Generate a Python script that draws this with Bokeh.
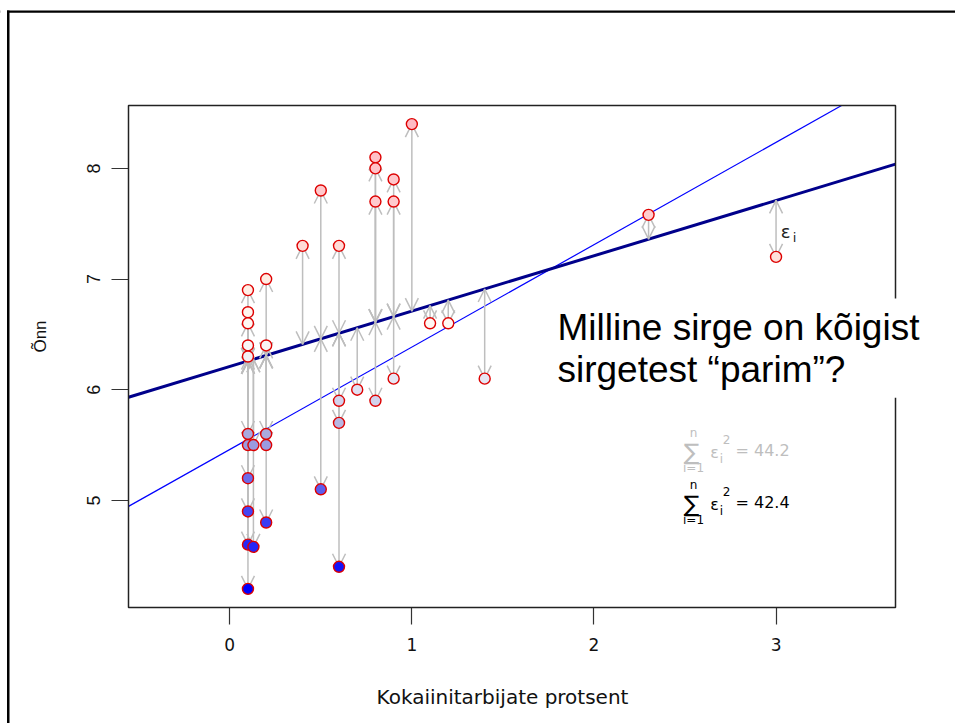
import math
import numpy as np
from bokeh.plotting import figure
from bokeh.models import (ColumnDataSource, Range1d, Arrow, OpenHead, Label, Span,
                          BoxAnnotation, LinearColorMapper, FixedTicker)
from bokeh.transform import transform
from bokeh.embed import file_html
from bokeh.resources import INLINE

# ---------------- data ----------------
cocaine_pct = [0.1, 0.1, 0.1, 0.1, 0.1, 0.1, 0.1, 0.1, 0.1, 0.1, 0.1, 0.13, 0.13,
               0.2, 0.2, 0.2, 0.2, 0.2, 0.4, 0.5, 0.5, 0.6, 0.6, 0.6, 0.6, 0.7,
               0.8, 0.8, 0.8, 0.8, 0.9, 0.9, 0.9, 1.0, 1.1, 1.2, 1.4, 2.3, 3.0]
happiness = [6.9, 6.7, 6.6, 6.4, 6.3, 5.6, 5.5, 5.2, 4.9, 4.6, 4.2, 5.5, 4.58,
             7.0, 6.4, 5.6, 5.5, 4.8, 7.3, 7.8, 5.1, 7.3, 5.9, 5.7, 4.4, 6.0,
             8.1, 8.0, 7.7, 5.9, 7.9, 7.7, 6.1, 8.4, 6.6, 6.6, 6.1, 7.58, 7.2]

best_intercept = 6.21      # thick dark-blue line
best_slope = 0.50
other_intercept = 5.46     # thin blue line
other_slope = 0.925

sse_other = "44.2"
sse_best = "42.4"

x_ticks = [0, 1, 2, 3]
y_ticks = [5, 6, 7, 8]
x_limits = [-0.4, 3.5]

x_title = "Kokaiinitarbijate protsent"
y_title = "Õnn"
question = "Milline sirge on kõigist\nsirgetest “parim”?"

# ---------------- derived ----------------
xs = np.array(cocaine_pct)
ys = np.array(happiness)
fitted = best_intercept + best_slope * xs

xpad = 0.04 * (x_limits[1] - x_limits[0])
ypad = 0.04 * (ys.max() - ys.min())
xlo, xhi = x_limits[0] - xpad, x_limits[1] + xpad       # plot box limits (R style)
ylo, yhi = ys.min() - ypad, ys.max() + ypad

W, H = 955, 723
BL, BR, BT, BB = 128, 895, 105, 607   # plot box edges in canvas px

# the Bokeh frame covers the whole canvas; ranges chosen so the box lands at BL..BR / BT..BB
sx = (xhi - xlo) / (BR - BL)
sy = (yhi - ylo) / (BB - BT)
x_range = Range1d(xlo - BL * sx, xhi + (W - BR) * sx)
y_range = Range1d(ylo - (H - BB) * sy, yhi + BT * sy)


def dx(px):
    return xlo + (px - BL) * sx


def dy(py):
    return yhi - (py - BT) * sy


SANS = "Liberation Sans"
WIDE = "DejaVu Sans"

p = figure(width=W, height=H, x_range=x_range, y_range=y_range,
           output_backend="svg", toolbar_location=None,
           min_border=0, min_border_left=0, min_border_right=0,
           min_border_top=0, min_border_bottom=0)
p.grid.visible = False
p.background_fill_color = "white"
p.border_fill_color = "white"
p.outline_line_color = None

# outer slide frame: only its left and top edges fall inside the picture
p.add_layout(Span(location=dy(11.2), dimension="width", line_color="black", line_width=2.3))
p.add_layout(BoxAnnotation(left=0, right=6.5, top=8, bottom=14,
                           left_units="canvas", right_units="canvas",
                           top_units="canvas", bottom_units="canvas",
                           fill_color="white", fill_alpha=1.0, line_alpha=0))
p.add_layout(BoxAnnotation(left=6.5, right=9, top=10, bottom=H,
                           left_units="canvas", right_units="canvas",
                           top_units="canvas", bottom_units="canvas",
                           fill_color="black", fill_alpha=1.0, line_alpha=0))

# plot box
p.add_layout(BoxAnnotation(left=xlo, right=xhi, bottom=ylo, top=yhi,
                           fill_alpha=0, line_color="#222222", line_alpha=1.0,
                           line_width=1.5))

# axes placed on the box edges
p.xaxis.fixed_location = ylo
p.yaxis.fixed_location = xlo
for ax in (p.xaxis[0], p.yaxis[0]):
    ax.axis_line_color = None
    ax.major_tick_line_color = "#333333"
    ax.major_tick_line_width = 1.2
    ax.major_tick_out = 17
    ax.major_tick_in = 0
    ax.minor_tick_line_color = None
    ax.major_label_text_color = "#111111"
p.xaxis.major_label_text_font = WIDE
p.xaxis.major_label_text_font_size = "17px"
p.yaxis.major_label_text_font = SANS
p.yaxis.major_label_text_font_size = "18px"
p.xaxis.ticker = FixedTicker(ticks=x_ticks)
p.yaxis.ticker = FixedTicker(ticks=y_ticks)
p.xaxis.major_label_standoff = 13
p.yaxis.major_label_standoff = 11
p.yaxis.major_label_orientation = "vertical"

# axis titles
p.add_layout(Label(x=502, y=696, x_units="canvas", y_units="canvas", text=x_title,
                   text_font=WIDE, text_font_size="20px", text_color="#111111",
                   text_align="center", text_baseline="middle"))
p.add_layout(Label(x=40, y=336, x_units="canvas", y_units="canvas", text=y_title,
                   text_font=SANS, text_font_size="17px", text_color="#111111",
                   text_align="center", text_baseline="middle", angle=math.pi / 2))

# lines, limited to the plot box
top_hit = (yhi - other_intercept) / other_slope
lx_other = np.array([xlo, min(xhi, top_hit)])
lx_best = np.array([xlo, xhi])
p.line(lx_other, other_intercept + other_slope * lx_other, line_color="#0000FF", line_width=1.2)
p.line(lx_best, best_intercept + best_slope * lx_best, line_color="#00008B", line_width=3)

# residual arrows
src_arrows = ColumnDataSource(dict(x0=xs, y0=fitted, x1=xs, y1=ys))
gray = "#BEBEBE"
p.add_layout(Arrow(source=src_arrows, x_start="x0", y_start="y0", x_end="x1", y_end="y1",
                   line_color=gray, line_width=1.5,
                   start=OpenHead(size=13, line_color=gray, line_width=1.5),
                   end=OpenHead(size=13, line_color=gray, line_width=1.5)))

# points coloured by value
anchors_v = [4.2, 5.0, 5.6, 6.0, 6.5, 7.0, 7.5, 8.4]
anchors_c = [(0, 0, 255), (80, 80, 240), (170, 170, 222), (225, 225, 242),
             (255, 252, 248), (255, 236, 226), (255, 208, 208), (255, 186, 196)]
grid_v = np.linspace(ys.min(), ys.max(), 256)
chan = [np.interp(grid_v, anchors_v, [c[i] for c in anchors_c]) for i in range(3)]
palette = ["#%02x%02x%02x" % (int(r), int(g), int(b)) for r, g, b in zip(*chan)]
mapper = LinearColorMapper(palette=palette, low=ys.min(), high=ys.max())

src_pts = ColumnDataSource(dict(x=xs, y=ys))
p.scatter("x", "y", source=src_pts, size=11, fill_color=transform("y", mapper),
          line_color="#DD0000", line_width=1.4, level="overlay")


def put(txt, px, py, size, color, font=WIDE, align="center"):
    p.add_layout(Label(x=dx(px), y=dy(py), text=txt, text_font=font,
                       text_font_size=size, text_color=color,
                       text_baseline="middle", text_align=align))


# epsilon label near x=3
put("ε", 785, 231, "18px", "#222222")
put("i", 794, 237, "13px", "#222222")


def sum_formula(dyp, color, value):
    put("∑", 691, 451 + dyp, "23px", color)
    put("n", 693, 432 + dyp, "12px", color)
    put("i=1", 693, 467 + dyp, "12px", color)
    put("ε", 714, 452 + dyp, "16px", color)
    put("2", 726, 439 + dyp, "12px", color)
    put("i", 721, 458 + dyp, "12px", color)
    put("= " + value, 735, 450 + dyp, "16px", color, align="left")


sum_formula(0, "#BEBEBE", sse_other)
sum_formula(52, "#000000", sse_best)

# question box
p.add_layout(Label(x=549, y=298, x_units="canvas", y_units="canvas",
                   text=question, text_font=SANS,
                   text_font_size="37px", text_color="black", text_align="left",
                   text_baseline="top", text_line_height=1.03,
                   background_fill_color="white", background_fill_alpha=1.0,
                   padding=8))

open("out.html", "w").write(file_html(p, INLINE))
